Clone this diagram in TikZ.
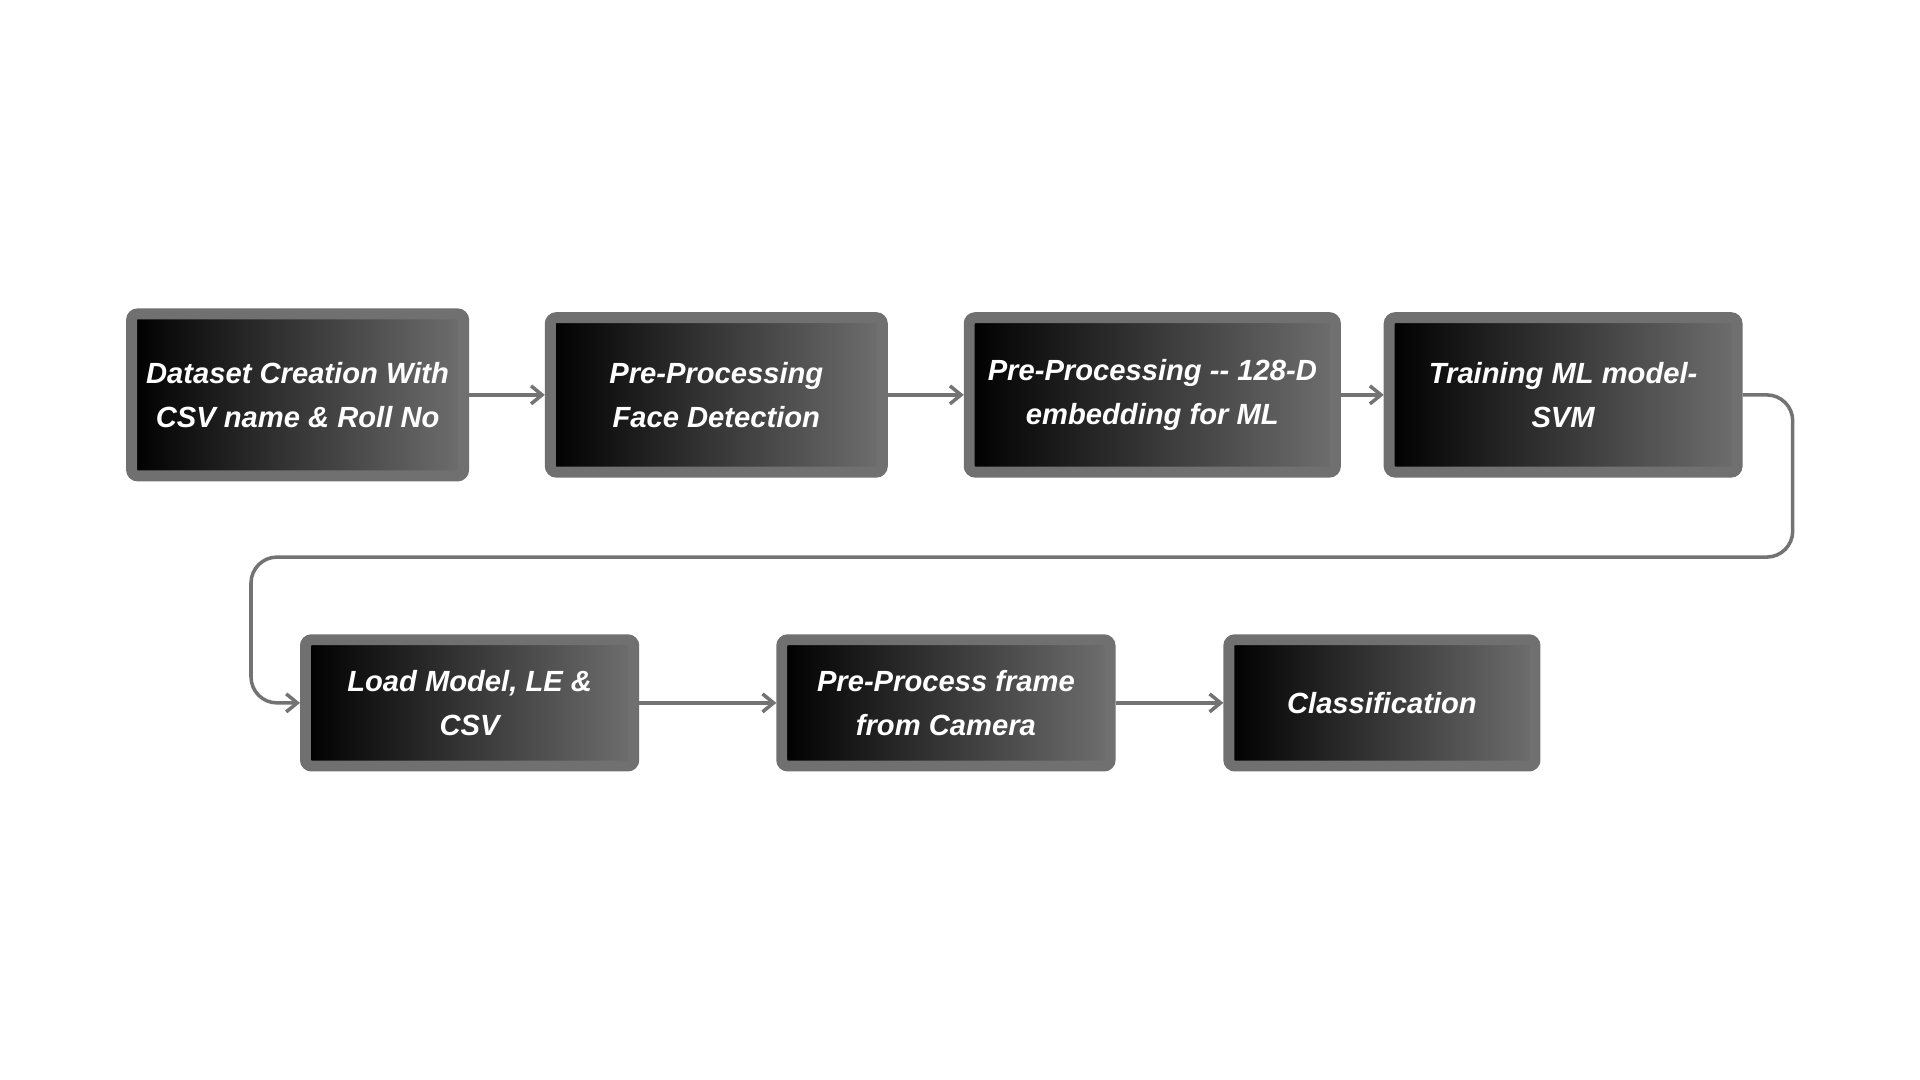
\documentclass[tikz,border=0pt]{standalone}
\usepackage{fontspec}
\setmainfont{Liberation Sans}
\usepackage{xcolor}
\usetikzlibrary{
    arrows.meta,
    shapes.misc
}
\definecolor{boxedge}{HTML}{707070}
\definecolor{boxlight}{HTML}{6E6E6E}
\definecolor{flowgray}{HTML}{737373}

\begin{document}
\begin{tikzpicture}[
    stage/.style={draw=boxedge, line width=3.1pt, rounded corners=0.6mm, left color=black, right color=boxlight,
        text=white, font=\fontsize{8.3}{12.5}\selectfont\bfseries\itshape, align=center, inner sep=0pt},
    flow/.style={flowgray, line width=1pt, -{Straight Barb[length=1.1mm, width=1.8mm]}}
]
            \useasboundingbox (0,0) rectangle (19.2,10.8);

            \node[stage, minimum width=3.32cm, minimum height=1.62cm] (dataset) at (2.976, 6.851) {Dataset Creation With\\CSV name \& Roll No};
            \node[stage, minimum width=3.32cm, minimum height=1.544cm] (facedet) at (7.163, 6.851) {Pre-Processing\\Face Detection};
            \node[stage, minimum width=3.662cm, minimum height=1.544cm] (embed) at (11.523, 6.851) {Pre-Processing -{}- 128-D\\embedding for ML};
            \node[stage, minimum width=3.479cm, minimum height=1.544cm] (train) at (15.631, 6.851) {Training ML model-\\SVM};

            \node[stage, minimum width=3.283cm, minimum height=1.262cm] (load) at (4.696, 3.771) {Load Model, LE \&\\CSV};
            \node[stage, minimum width=3.283cm, minimum height=1.262cm] (frame) at (9.459, 3.771) {Pre-Process frame\\from Camera};
            \node[stage, minimum width=3.062cm, minimum height=1.262cm] (classify) at (13.819, 3.771) {Classification};

            \coordinate (loopR) at (17.927, 5.229);
            \coordinate (loopL) at (2.510, 5.229);

            \draw[flow] (dataset)--(facedet);
            \draw[flow] (facedet)--(embed);
            \draw[flow] (embed)--(train);

            \draw[flow, rounded corners=2.6mm] (train.east) -| (loopR) -- (loopL) |- (load.west);

            \draw[flow] (load)--(frame);
            \draw[flow] (frame)--(classify);
\end{tikzpicture}
\end{document}
